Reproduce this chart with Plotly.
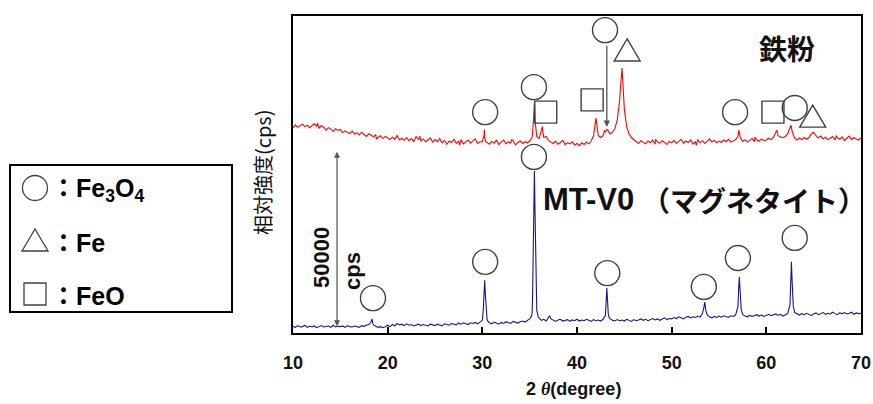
import plotly.graph_objects as go

# ---------------- data (intensities in kcps) ----------------
X_START = 10.0
X_STEP = 0.25

blue_grid = [
    1.9,1.6,2.1,1.7,1.8,2.2,1.6,1.9,1.7,2.0, 1.5,1.9,2.1,1.7,1.8,2.0,1.6,2.2,1.7,1.9,
    1.8,2.0,1.6,2.1,1.8,1.7,2.0,1.9,1.6,2.1, 1.9,2.2,2.4,3.2,2.3,1.9,1.6,1.8,1.5,1.8,
    2.2,1.8,2.4,2.0,2.7,2.3,2.5,2.1,2.6,2.2, 2.4,2.0,2.3,2.5,2.1,2.4,2.2,2.0,2.5,2.3,
    2.1,2.5,2.3,2.0,2.6,2.4,2.2,2.7,2.4,2.3, 2.8,2.5,2.9,2.6,2.4,2.9,2.7,3.0,2.6,3.1,
    3.6,15.0,3.8,2.9,2.6,3.1,2.8,2.5,3.0,2.7, 3.2,2.9,2.7,3.3,3.0,2.8,3.2,3.4,3.1,3.5,
    4.0,5.5,46.0,6.5,4.2,3.6,3.9,3.4,4.3,4.0, 3.6,3.3,3.7,3.9,3.4,3.6,3.8,3.3,3.7,3.5,
    3.9,3.4,3.7,3.5,3.9,3.6,3.3,3.8,3.5,3.7, 3.4,3.9,5.0,7.5,4.0,3.6,3.4,3.8,3.5,3.7,
    3.4,3.9,3.6,3.3,3.8,3.5,3.7,4.0,3.6,3.9, 3.5,3.8,4.1,3.7,4.0,3.6,3.9,4.3,3.8,4.1,
    4.0,4.4,4.1,4.6,4.3,4.0,4.5,4.7,4.3,4.6, 4.4,4.8,4.5,5.5,8.8,5.2,4.6,4.3,4.7,4.4,
    4.8,4.5,4.9,4.6,4.4,4.9,4.7,5.1,7.5,10.0, 5.3,4.8,4.6,5.0,4.7,4.9,5.2,4.8,5.1,4.7,
    5.0,5.3,4.9,5.2,5.4,5.0,5.3,4.8,5.1,5.5, 8.0,12.0,5.8,5.4,5.1,5.5,5.2,5.6,5.3,5.0,
    5.4,5.7,5.2,5.5,5.8,5.3,5.6,5.4,5.9,5.5, 5.2,5.7,5.5,5.8,5.4,5.6,5.9,5.3,5.7,5.5,
    5.6,
]
blue_extra_x = [18.35, 18.42, 30.1, 30.18, 30.32, 30.4, 30.62,
                35.15, 35.3, 35.4, 35.57, 35.65, 35.9, 37.1,
                43.08, 43.15, 43.22, 43.3, 43.4, 53.4, 53.6,
                57.08, 57.15, 57.22, 57.35, 62.58, 62.65, 62.72, 62.85]
blue_extra_y = [4.0, 2.8, 6.5, 12.0, 11.0, 6.0, 3.2,
                4.6, 9.0, 28.0, 34.0, 14.0, 4.6, 4.9,
                9.0, 12.8, 9.5, 5.5, 4.4, 7.2, 6.5,
                13.0, 15.9, 12.5, 6.5, 16.5, 20.2, 15.0, 7.5]

red_grid = [
    58.2,59.1,58.4,58.9,59.3,58.6,59.0,58.3,58.8,59.4, 58.7,58.1,58.9,58.4,57.6,58.3,57.9,57.2,58.0,57.5,
    57.8,56.9,57.4,57.0,56.6,57.3,56.5,56.9,56.2,57.0, 56.4,55.8,56.6,56.1,55.7,56.3,55.5,56.0,55.2,55.8,
    55.4,54.9,55.6,55.0,56.1,54.8,55.3,54.7,55.5,54.6, 55.2,54.4,55.8,54.9,54.5,55.1,54.3,54.8,55.4,54.2,
    54.9,54.3,55.2,54.0,54.7,53.6,54.5,54.1,55.0,53.8, 54.4,54.9,53.7,54.2,54.8,53.9,54.5,55.1,53.8,54.3,
    54.3,55.5,54.0,53.6,54.4,53.9,54.7,53.5,54.2,54.8, 53.7,54.3,53.9,54.6,53.4,54.1,54.5,53.8,54.3,54.0,
    54.5,55.5,65.3,55.8,55.2,57.8,55.5,55.8,54.6,54.2, 53.8,54.5,53.6,54.1,54.7,53.5,54.0,53.7,54.3,53.4,
    53.8,53.2,54.0,53.5,54.2,53.7,54.5,56.0,61.0,56.0, 55.5,56.0,57.0,57.6,56.5,57.0,58.0,60.5,66.0,75.2,
    63.5,58.5,56.5,55.5,55.0,54.4,53.8,54.6,54.1,53.7, 54.5,54.0,54.8,53.6,54.3,53.9,54.6,54.1,53.5,54.4,
    54.0,54.7,53.8,54.4,55.0,53.9,54.5,54.1,54.8,53.7, 54.3,54.9,54.0,54.6,53.8,54.4,55.1,54.2,54.7,54.0,
    54.5,54.1,54.8,54.3,55.0,54.2,54.6,54.9,55.8,55.5, 54.4,54.9,54.2,54.7,55.2,54.3,54.8,54.5,55.1,54.6,
    54.8,55.3,54.9,55.5,57.0,56.0,55.6,55.5,55.8,56.5, 58.5,57.0,55.3,54.8,55.4,54.9,55.5,55.0,55.5,56.5,
    57.0,56.0,55.4,55.9,55.1,55.6,54.9,55.3,55.8,54.8, 55.4,55.0,55.7,54.7,55.3,55.9,54.9,55.5,55.1,54.8,
    55.4,
]
red_extra_x = [12.6, 18.8, 23.4, 27.6, 30.18, 30.22, 30.35, 33.1,
               35.3, 35.4, 35.6, 35.68, 36.35, 36.42, 41.9, 42.1, 42.9, 43.15,
               44.65, 44.85, 44.92, 48.3, 52.6, 57.1, 58.8, 61.1, 62.6, 67.4]
red_extra_y = [59.6, 55.0, 55.9, 53.3, 56.0, 57.8, 54.4, 55.0,
               56.5, 60.5, 59.5, 56.8, 58.6, 56.5, 59.5, 59.0, 57.5, 57.8,
               72.5, 71.0, 67.0, 55.0, 53.3, 57.6, 55.6, 57.6, 59.0, 56.0]

# phase marker positions (2theta, kcps)
circle_x = [30.3, 35.45, 42.96, 56.7, 63.0, 35.45, 18.45, 30.3, 43.2, 53.4, 57.0, 63.0]
circle_y = [62.7, 69.8, 86.0, 62.7, 63.9, 50.0, 9.9, 20.2, 17.0, 13.1, 21.3, 27.0]
square_x = [36.7, 41.6, 60.7]
square_y = [62.7, 66.2, 62.7]
triangle_x = [45.3, 64.9]
triangle_y = [79.8, 61.0]

tick_vals = [10, 20, 30, 40, 50, 60, 70]


def merge(grid, ex_x, ex_y):
    pts = [(X_START + X_STEP * i, v) for i, v in enumerate(grid)]
    pts += list(zip(ex_x, ex_y))
    pts.sort()
    return [p[0] for p in pts], [p[1] for p in pts]


bx, by = merge(blue_grid, blue_extra_x, blue_extra_y)
rx, ry = merge(red_grid, red_extra_x, red_extra_y)

LAT = "Liberation Sans, Arial, Noto Sans CJK JP, sans-serif"
JP = "Noto Sans CJK JP, sans-serif"
SYM = "#404040"

fig = go.Figure()
fig.add_trace(go.Scatter(x=rx, y=ry, mode="lines", line=dict(color="#ff0000", width=1.1)))
fig.add_trace(go.Scatter(x=bx, y=by, mode="lines", line=dict(color="#16168c", width=1.1)))
fig.add_trace(go.Scatter(x=circle_x, y=circle_y, mode="markers", cliponaxis=False,
                         marker=dict(symbol="circle-open", size=25, color=SYM, line=dict(width=1.4))))
fig.add_trace(go.Scatter(x=square_x, y=square_y, mode="markers", cliponaxis=False,
                         marker=dict(symbol="square-open", size=22, color=SYM, line=dict(width=1.4))))

shapes = []
for tx, ty in zip(triangle_x, triangle_y):
    shapes.append(dict(type="path", xref="x", yref="y", xsizemode="pixel", ysizemode="pixel",
                       xanchor=tx, yanchor=ty, path="M -13 -9 L 13 -9 L 0 13 Z",
                       line=dict(color=SYM, width=1.4), fillcolor="rgba(0,0,0,0)"))

# legend box (paper coords from pixels)
W, H, L, T = 568.0, 317.0, 293.0, 16.0
def px(x): return (x - L) / W
def py(y): return (T + H - y) / H

shapes.append(dict(type="rect", xref="paper", yref="paper", x0=px(10), x1=px(232), y0=py(312), y1=py(165),
                   line=dict(color="black", width=2)))
shapes.append(dict(type="circle", xref="paper", yref="paper", xsizemode="pixel", ysizemode="pixel",
                   xanchor=px(35), yanchor=py(188), x0=-12.5, x1=12.5, y0=-12.5, y1=12.5,
                   line=dict(color=SYM, width=1.3)))
shapes.append(dict(type="path", xref="paper", yref="paper", xsizemode="pixel", ysizemode="pixel",
                   xanchor=px(35), yanchor=py(240), path="M -13 -11 L 13 -11 L 0 11 Z",
                   line=dict(color=SYM, width=1.3)))
shapes.append(dict(type="rect", xref="paper", yref="paper", xsizemode="pixel", ysizemode="pixel",
                   xanchor=px(35), yanchor=py(294), x0=-11, x1=11, y0=-11, y1=11,
                   line=dict(color=SYM, width=1.3)))

ann = []
for text, yy in [("：Fe<sub>3</sub>O<sub>4</sub>", 190), ("：Fe", 243), ("：FeO", 296)]:
    ann.append(dict(xref="paper", yref="paper", x=px(49), y=py(yy), xanchor="left", yanchor="middle",
                    text=text, showarrow=False, font=dict(family=LAT, size=25, color="black", weight="bold")))

ann += [
    dict(xref="paper", yref="paper", x=px(787), y=py(48), xanchor="center", yanchor="middle",
         text="鉄粉", showarrow=False, font=dict(family=JP, size=28, color="#111", weight="bold")),
    dict(xref="paper", yref="paper", x=px(541), y=py(200), xanchor="left", yanchor="middle",
         text="MT-V0", showarrow=False,
         font=dict(family=LAT, size=31, color="#111", weight="bold")),
    dict(xref="paper", yref="paper", x=px(640), y=py(200), xanchor="left", yanchor="middle",
         text="（マグネタイト）", showarrow=False,
         font=dict(family=JP, size=28, color="#111", weight="bold")),
    dict(xref="paper", yref="paper", x=px(321), y=py(258), xanchor="center", yanchor="middle",
         text="50000", textangle=-90, showarrow=False,
         font=dict(family=LAT, size=22, color="#111", weight="bold")),
    dict(xref="paper", yref="paper", x=px(352), y=py(271), xanchor="center", yanchor="middle",
         text="cps", textangle=-90, showarrow=False,
         font=dict(family=LAT, size=22, color="#111", weight="bold")),
    dict(xref="paper", yref="paper", x=px(262), y=py(173), xanchor="center", yanchor="middle",
         text="相対強度(cps)", textangle=-90, showarrow=False,
         font=dict(family=JP, size=20, color="#111")),
    dict(xref="paper", yref="paper", x=px(573), y=py(389), xanchor="center", yanchor="middle",
         text="2 <span style='font-family:Liberation Serif'><i>θ</i></span>(degree)", showarrow=False,
         font=dict(family=LAT, size=18, color="#111", weight="bold")),
    # arrow to hidden Fe3O4 peak
    dict(x=43.15, y=58.5, ax=43.15, ay=82.0, xref="x", yref="y", axref="x", ayref="y", text="",
         showarrow=True, arrowhead=2, arrowsize=1, arrowwidth=1.3, arrowcolor="#555"),
    # 50000 cps scale arrow
    dict(x=14.65, y=1.9, ax=14.65, ay=51.9, xref="x", yref="y", axref="x", ayref="y", text="",
         showarrow=True, arrowhead=2, startarrowhead=2, arrowside="end+start", arrowsize=1,
         arrowwidth=1.2, arrowcolor="#555"),
]

fig.update_layout(
    width=873, height=404, margin=dict(l=293, r=12, t=16, b=71, autoexpand=False),
    paper_bgcolor="white", plot_bgcolor="white", showlegend=False,
    shapes=shapes, annotations=ann,
)
fig.update_xaxes(range=[10, 70], tickvals=tick_vals, ticks="inside", ticklen=6, tickwidth=1.5,
                 tickcolor="black", showline=True, linecolor="black", linewidth=2, mirror=True,
                 showgrid=False, zeroline=False, ticklabelstandoff=12, automargin=False,
                 tickfont=dict(family=LAT, size=18, color="#111", weight="bold"))
fig.update_yaxes(range=[0, 90], showticklabels=False, ticks="", showline=True, linecolor="black",
                 linewidth=2, mirror=True, showgrid=False, zeroline=False, automargin=False)

fig.write_html("out.html", config={"displayModeBar": False},
               post_script="document.body.style.margin='0px';document.body.style.padding='0px';"
                           "document.documentElement.style.overflow='hidden';")
